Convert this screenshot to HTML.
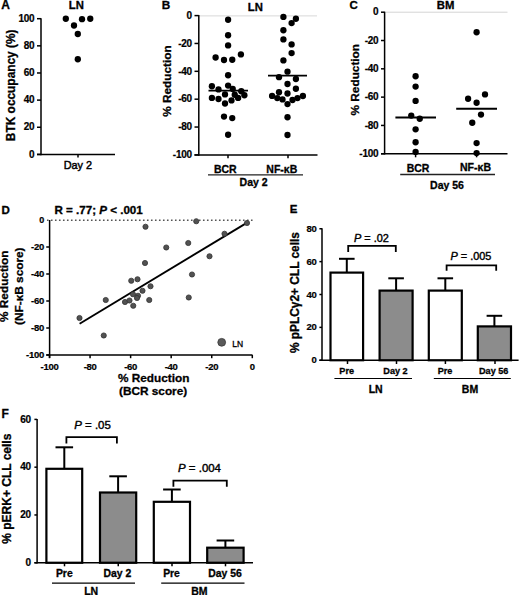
<!DOCTYPE html>
<html><head><meta charset="utf-8"><style>
html,body{margin:0;padding:0;background:#fff;}
svg{display:block;font-family:"Liberation Sans", sans-serif;}
</style></head><body>
<svg width="520" height="595" viewBox="0 0 520 595">
<rect width="520" height="595" fill="#fff"/>
<text x="0" y="0" transform="translate(1.3 8.8)" font-size="12" text-anchor="start" font-weight="bold" fill="#000" stroke="#000" stroke-width="0.3" >A</text>
<text x="0" y="0" transform="translate(76.4 9)" font-size="11.3" text-anchor="middle" font-weight="bold" fill="#000" stroke="#000" stroke-width="0.3" >LN</text>
<line x1="41" y1="18.2" x2="41" y2="155.15" stroke="#000" stroke-width="1.5" />
<line x1="37" y1="18.7" x2="41" y2="18.7" stroke="#000" stroke-width="1.5" />
<text x="0" y="0" transform="translate(34.2 21.9)" font-size="10" text-anchor="end" font-weight="bold" fill="#000" stroke="#000" stroke-width="0.22" letter-spacing="-0.3" >100</text>
<line x1="37" y1="45.84" x2="41" y2="45.84" stroke="#000" stroke-width="1.5" />
<text x="0" y="0" transform="translate(34.2 49.040000000000006)" font-size="10" text-anchor="end" font-weight="bold" fill="#000" stroke="#000" stroke-width="0.22" letter-spacing="-0.3" >80</text>
<line x1="37" y1="72.98" x2="41" y2="72.98" stroke="#000" stroke-width="1.5" />
<text x="0" y="0" transform="translate(34.2 76.18)" font-size="10" text-anchor="end" font-weight="bold" fill="#000" stroke="#000" stroke-width="0.22" letter-spacing="-0.3" >60</text>
<line x1="37" y1="100.12" x2="41" y2="100.12" stroke="#000" stroke-width="1.5" />
<text x="0" y="0" transform="translate(34.2 103.32000000000001)" font-size="10" text-anchor="end" font-weight="bold" fill="#000" stroke="#000" stroke-width="0.22" letter-spacing="-0.3" >40</text>
<line x1="37" y1="127.26000000000002" x2="41" y2="127.26000000000002" stroke="#000" stroke-width="1.5" />
<text x="0" y="0" transform="translate(34.2 130.46)" font-size="10" text-anchor="end" font-weight="bold" fill="#000" stroke="#000" stroke-width="0.22" letter-spacing="-0.3" >20</text>
<line x1="37" y1="154.4" x2="41" y2="154.4" stroke="#000" stroke-width="1.5" />
<text x="0" y="0" transform="translate(34.2 157.6)" font-size="10" text-anchor="end" font-weight="bold" fill="#000" stroke="#000" stroke-width="0.22" letter-spacing="-0.3" >0</text>
<line x1="37" y1="154.4" x2="115" y2="154.4" stroke="#000" stroke-width="1.5" />
<line x1="78" y1="154.4" x2="78" y2="157.5" stroke="#000" stroke-width="1.5" />
<text x="0" y="0" transform="translate(77.9 168.9)" font-size="10.9" text-anchor="middle" font-weight="normal" fill="#000" stroke="#000" stroke-width="0.45" >Day 2</text>
<text x="0" y="0" transform="translate(15.4 85.3) rotate(-90)" font-size="11.9" text-anchor="middle" font-weight="bold" fill="#000" stroke="#000" stroke-width="0.3" >BTK occupancy (%)</text>
<circle cx="65.8" cy="18.75" r="3.15" fill="#000"/>
<circle cx="74" cy="25.5" r="3.15" fill="#000"/>
<circle cx="82" cy="19.2" r="3.15" fill="#000"/>
<circle cx="90.25" cy="18.75" r="3.15" fill="#000"/>
<circle cx="77.8" cy="34" r="3.15" fill="#000"/>
<circle cx="77.8" cy="59.25" r="3.15" fill="#000"/>
<text x="0" y="0" transform="translate(161.8 8.8)" font-size="11.8" text-anchor="start" font-weight="bold" fill="#000" stroke="#000" stroke-width="0.3" >B</text>
<text x="0" y="0" transform="translate(255.3 11.3)" font-size="11.3" text-anchor="middle" font-weight="bold" fill="#000" stroke="#000" stroke-width="0.3" >LN</text>
<line x1="199.55" y1="15.9" x2="317" y2="15.9" stroke="#d8d8d8" stroke-width="1" />
<line x1="198.8" y1="15.1" x2="198.8" y2="155.65" stroke="#000" stroke-width="1.5" />
<line x1="194.5" y1="15.6" x2="198.8" y2="15.6" stroke="#000" stroke-width="1.5" />
<text x="0" y="0" transform="translate(191.7 18.8)" font-size="10" text-anchor="end" font-weight="bold" fill="#000" stroke="#000" stroke-width="0.22" letter-spacing="-0.3" >0</text>
<line x1="194.5" y1="43.46" x2="198.8" y2="43.46" stroke="#000" stroke-width="1.5" />
<text x="0" y="0" transform="translate(191.7 46.660000000000004)" font-size="10" text-anchor="end" font-weight="bold" fill="#000" stroke="#000" stroke-width="0.22" letter-spacing="-0.3" >-20</text>
<line x1="194.5" y1="71.32000000000001" x2="198.8" y2="71.32000000000001" stroke="#000" stroke-width="1.5" />
<text x="0" y="0" transform="translate(191.7 74.52000000000001)" font-size="10" text-anchor="end" font-weight="bold" fill="#000" stroke="#000" stroke-width="0.22" letter-spacing="-0.3" >-40</text>
<line x1="194.5" y1="99.18" x2="198.8" y2="99.18" stroke="#000" stroke-width="1.5" />
<text x="0" y="0" transform="translate(191.7 102.38000000000001)" font-size="10" text-anchor="end" font-weight="bold" fill="#000" stroke="#000" stroke-width="0.22" letter-spacing="-0.3" >-60</text>
<line x1="194.5" y1="127.04" x2="198.8" y2="127.04" stroke="#000" stroke-width="1.5" />
<text x="0" y="0" transform="translate(191.7 130.24)" font-size="10" text-anchor="end" font-weight="bold" fill="#000" stroke="#000" stroke-width="0.22" letter-spacing="-0.3" >-80</text>
<line x1="194.5" y1="154.9" x2="198.8" y2="154.9" stroke="#000" stroke-width="1.5" />
<text x="0" y="0" transform="translate(191.7 158.1)" font-size="10" text-anchor="end" font-weight="bold" fill="#000" stroke="#000" stroke-width="0.22" letter-spacing="-0.3" >-100</text>
<line x1="194.5" y1="154.9" x2="317.5" y2="154.9" stroke="#000" stroke-width="1.5" />
<line x1="228" y1="154.9" x2="228" y2="158.2" stroke="#000" stroke-width="1.5" />
<line x1="288" y1="154.9" x2="288" y2="158.2" stroke="#000" stroke-width="1.5" />
<line x1="208.5" y1="90.6" x2="248" y2="90.6" stroke="#000" stroke-width="1.8" />
<line x1="268" y1="75.6" x2="307" y2="75.6" stroke="#000" stroke-width="1.8" />
<text x="0" y="0" transform="translate(225.3 172.9)" font-size="10.5" text-anchor="middle" font-weight="bold" fill="#000" stroke="#000" stroke-width="0.3" >BCR</text>
<text x="0" y="0" transform="translate(281.8 173.0)" font-size="10.5" text-anchor="middle" font-weight="bold" fill="#000" stroke="#000" stroke-width="0.3" >NF-κB</text>
<line x1="208" y1="174.8" x2="303" y2="174.8" stroke="#222" stroke-width="1.3" />
<text x="0" y="0" transform="translate(253.6 185.8)" font-size="10.5" text-anchor="middle" font-weight="bold" fill="#000" stroke="#000" stroke-width="0.3" >Day 2</text>
<text x="0" y="0" transform="translate(170.9 81.1) rotate(-90)" font-size="11.8" text-anchor="middle" font-weight="bold" fill="#000" stroke="#000" stroke-width="0.3" >% Reduction</text>
<circle cx="228.1" cy="19.75" r="3.15" fill="#000"/>
<circle cx="228.1" cy="35.25" r="3.15" fill="#000"/>
<circle cx="228.1" cy="45.4" r="3.15" fill="#000"/>
<circle cx="215.6" cy="57.5" r="3.15" fill="#000"/>
<circle cx="224" cy="60" r="3.15" fill="#000"/>
<circle cx="232.25" cy="59.75" r="3.15" fill="#000"/>
<circle cx="240.9" cy="54.4" r="3.15" fill="#000"/>
<circle cx="228.1" cy="75.25" r="3.15" fill="#000"/>
<circle cx="211.9" cy="86.25" r="3.15" fill="#000"/>
<circle cx="218.5" cy="89.4" r="3.15" fill="#000"/>
<circle cx="228.1" cy="85.6" r="3.15" fill="#000"/>
<circle cx="232.75" cy="89" r="3.15" fill="#000"/>
<circle cx="225" cy="94.4" r="3.15" fill="#000"/>
<circle cx="234.75" cy="94.75" r="3.15" fill="#000"/>
<circle cx="241.25" cy="91.25" r="3.15" fill="#000"/>
<circle cx="244.4" cy="95.25" r="3.15" fill="#000"/>
<circle cx="211.9" cy="97.9" r="3.15" fill="#000"/>
<circle cx="218.5" cy="99" r="3.15" fill="#000"/>
<circle cx="238.1" cy="97.9" r="3.15" fill="#000"/>
<circle cx="231.5" cy="100.4" r="3.15" fill="#000"/>
<circle cx="225" cy="103.5" r="3.15" fill="#000"/>
<circle cx="224" cy="116.6" r="3.15" fill="#000"/>
<circle cx="232.25" cy="118.1" r="3.15" fill="#000"/>
<circle cx="228.1" cy="134.75" r="3.15" fill="#000"/>
<circle cx="283.4" cy="16.9" r="3.15" fill="#000"/>
<circle cx="295.9" cy="18.75" r="3.15" fill="#000"/>
<circle cx="291.6" cy="23.1" r="3.15" fill="#000"/>
<circle cx="283.4" cy="30.25" r="3.15" fill="#000"/>
<circle cx="283.4" cy="39.4" r="3.15" fill="#000"/>
<circle cx="291.6" cy="44.4" r="3.15" fill="#000"/>
<circle cx="291.6" cy="53.1" r="3.15" fill="#000"/>
<circle cx="283.4" cy="60.4" r="3.15" fill="#000"/>
<circle cx="287.5" cy="71.7" r="3.15" fill="#000"/>
<circle cx="279" cy="77.2" r="3.15" fill="#000"/>
<circle cx="295.9" cy="79" r="3.15" fill="#000"/>
<circle cx="287.5" cy="84" r="3.15" fill="#000"/>
<circle cx="295.9" cy="88.75" r="3.15" fill="#000"/>
<circle cx="279" cy="92.25" r="3.15" fill="#000"/>
<circle cx="287.5" cy="93.5" r="3.15" fill="#000"/>
<circle cx="272.1" cy="95.9" r="3.15" fill="#000"/>
<circle cx="277.25" cy="98.1" r="3.15" fill="#000"/>
<circle cx="282.5" cy="99.4" r="3.15" fill="#000"/>
<circle cx="292.5" cy="100" r="3.15" fill="#000"/>
<circle cx="297.5" cy="98.1" r="3.15" fill="#000"/>
<circle cx="302.9" cy="96" r="3.15" fill="#000"/>
<circle cx="287.5" cy="104.1" r="3.15" fill="#000"/>
<circle cx="287.5" cy="117.25" r="3.15" fill="#000"/>
<circle cx="287.5" cy="135" r="3.15" fill="#000"/>
<text x="0" y="0" transform="translate(349.4 9.2)" font-size="11.5" text-anchor="start" font-weight="bold" fill="#000" stroke="#000" stroke-width="0.3" >C</text>
<text x="0" y="0" transform="translate(445.5 8.6)" font-size="11.3" text-anchor="middle" font-weight="bold" fill="#000" stroke="#000" stroke-width="0.3" >BM</text>
<line x1="385.35" y1="12.2" x2="507.5" y2="12.2" stroke="#d4d4d4" stroke-width="1" />
<line x1="384.6" y1="11.7" x2="384.6" y2="154.5" stroke="#000" stroke-width="1.5" />
<line x1="381" y1="12.2" x2="384.6" y2="12.2" stroke="#000" stroke-width="1.5" />
<text x="0" y="0" transform="translate(378.2 15.399999999999999)" font-size="10" text-anchor="end" font-weight="bold" fill="#000" stroke="#000" stroke-width="0.22" letter-spacing="-0.3" >0</text>
<line x1="381" y1="40.510000000000005" x2="384.6" y2="40.510000000000005" stroke="#000" stroke-width="1.5" />
<text x="0" y="0" transform="translate(378.2 43.71000000000001)" font-size="10" text-anchor="end" font-weight="bold" fill="#000" stroke="#000" stroke-width="0.22" letter-spacing="-0.3" >-20</text>
<line x1="381" y1="68.82000000000001" x2="384.6" y2="68.82000000000001" stroke="#000" stroke-width="1.5" />
<text x="0" y="0" transform="translate(378.2 72.02000000000001)" font-size="10" text-anchor="end" font-weight="bold" fill="#000" stroke="#000" stroke-width="0.22" letter-spacing="-0.3" >-40</text>
<line x1="381" y1="97.13000000000001" x2="384.6" y2="97.13000000000001" stroke="#000" stroke-width="1.5" />
<text x="0" y="0" transform="translate(378.2 100.33000000000001)" font-size="10" text-anchor="end" font-weight="bold" fill="#000" stroke="#000" stroke-width="0.22" letter-spacing="-0.3" >-60</text>
<line x1="381" y1="125.44000000000001" x2="384.6" y2="125.44000000000001" stroke="#000" stroke-width="1.5" />
<text x="0" y="0" transform="translate(378.2 128.64000000000001)" font-size="10" text-anchor="end" font-weight="bold" fill="#000" stroke="#000" stroke-width="0.22" letter-spacing="-0.3" >-80</text>
<line x1="381" y1="153.75" x2="384.6" y2="153.75" stroke="#000" stroke-width="1.5" />
<text x="0" y="0" transform="translate(378.2 156.95)" font-size="10" text-anchor="end" font-weight="bold" fill="#000" stroke="#000" stroke-width="0.22" letter-spacing="-0.3" >-100</text>
<line x1="381" y1="153.75" x2="507.5" y2="153.75" stroke="#000" stroke-width="1.5" />
<line x1="415.6" y1="153.75" x2="415.6" y2="157.3" stroke="#000" stroke-width="1.5" />
<line x1="476.6" y1="153.75" x2="476.6" y2="157.3" stroke="#000" stroke-width="1.5" />
<line x1="395.4" y1="117.5" x2="436" y2="117.5" stroke="#000" stroke-width="1.8" />
<line x1="456.2" y1="108.75" x2="497" y2="108.75" stroke="#000" stroke-width="1.8" />
<text x="0" y="0" transform="translate(418 171.5)" font-size="10.5" text-anchor="middle" font-weight="bold" fill="#000" stroke="#000" stroke-width="0.3" >BCR</text>
<text x="0" y="0" transform="translate(475.5 171.3)" font-size="10.5" text-anchor="middle" font-weight="bold" fill="#000" stroke="#000" stroke-width="0.3" >NF-κB</text>
<line x1="400.2" y1="174.5" x2="495" y2="174.5" stroke="#222" stroke-width="1.3" />
<text x="0" y="0" transform="translate(447 188.6)" font-size="10.5" text-anchor="middle" font-weight="bold" fill="#000" stroke="#000" stroke-width="0.3" >Day 56</text>
<text x="0" y="0" transform="translate(358.8 79.7) rotate(-90)" font-size="11.8" text-anchor="middle" font-weight="bold" fill="#000" stroke="#000" stroke-width="0.3" >% Reduction</text>
<circle cx="415.6" cy="76.25" r="3.15" fill="#000"/>
<circle cx="415.6" cy="86.6" r="3.15" fill="#000"/>
<circle cx="415.6" cy="100.9" r="3.15" fill="#000"/>
<circle cx="411.25" cy="115.6" r="3.15" fill="#000"/>
<circle cx="419.75" cy="118.75" r="3.15" fill="#000"/>
<circle cx="415.6" cy="129.3" r="3.15" fill="#000"/>
<circle cx="415.6" cy="142.25" r="3.15" fill="#000"/>
<circle cx="415.6" cy="151.9" r="3.15" fill="#000"/>
<circle cx="476.6" cy="32.25" r="3.15" fill="#000"/>
<circle cx="468.1" cy="98.75" r="3.15" fill="#000"/>
<circle cx="485" cy="94.4" r="3.15" fill="#000"/>
<circle cx="476.6" cy="102.75" r="3.15" fill="#000"/>
<circle cx="481" cy="114.6" r="3.15" fill="#000"/>
<circle cx="472.25" cy="122.75" r="3.15" fill="#000"/>
<circle cx="476.6" cy="143.1" r="3.15" fill="#000"/>
<circle cx="476.6" cy="153.1" r="3.15" fill="#000"/>
<text x="0" y="0" transform="translate(1.5 213.9)" font-size="11.5" text-anchor="start" font-weight="bold" fill="#000" stroke="#000" stroke-width="0.3" >D</text>
<text x="0" y="0" transform="translate(54.5 213.9) scale(1.105 1)" font-size="10.5" text-anchor="start" font-weight="bold" fill="#000" stroke="#000" stroke-width="0.3" >R = .77; <tspan font-style="italic">P</tspan> &lt; .001</text>
<line x1="46.95" y1="220.2" x2="253.5" y2="220.2" stroke="#555" stroke-width="1.4" stroke-dasharray="1.6,2.4"/>
<line x1="49.6" y1="220" x2="49.6" y2="358" stroke="#000" stroke-width="1.5" />
<text x="0" y="0" transform="translate(43.9 223.0)" font-size="9" text-anchor="end" font-weight="bold" fill="#000" stroke="#000" stroke-width="0.22" letter-spacing="-0.3" >0</text>
<line x1="46.25" y1="247.0" x2="49.6" y2="247.0" stroke="#000" stroke-width="1.5" />
<text x="0" y="0" transform="translate(43.9 250.0)" font-size="9.5" text-anchor="end" font-weight="bold" fill="#000" stroke="#000" stroke-width="0.22" letter-spacing="-0.3" >-20</text>
<line x1="46.25" y1="274.0" x2="49.6" y2="274.0" stroke="#000" stroke-width="1.5" />
<text x="0" y="0" transform="translate(43.9 277.0)" font-size="9.5" text-anchor="end" font-weight="bold" fill="#000" stroke="#000" stroke-width="0.22" letter-spacing="-0.3" >-40</text>
<line x1="46.25" y1="301.0" x2="49.6" y2="301.0" stroke="#000" stroke-width="1.5" />
<text x="0" y="0" transform="translate(43.9 304.0)" font-size="9.5" text-anchor="end" font-weight="bold" fill="#000" stroke="#000" stroke-width="0.22" letter-spacing="-0.3" >-60</text>
<line x1="46.25" y1="328.0" x2="49.6" y2="328.0" stroke="#000" stroke-width="1.5" />
<text x="0" y="0" transform="translate(43.9 331.0)" font-size="9.5" text-anchor="end" font-weight="bold" fill="#000" stroke="#000" stroke-width="0.22" letter-spacing="-0.3" >-80</text>
<line x1="46.25" y1="355.0" x2="49.6" y2="355.0" stroke="#000" stroke-width="1.5" />
<text x="0" y="0" transform="translate(43.9 358.0)" font-size="9.5" text-anchor="end" font-weight="bold" fill="#000" stroke="#000" stroke-width="0.22" letter-spacing="-0.3" >-100</text>
<line x1="46.25" y1="355" x2="252.5" y2="355" stroke="#000" stroke-width="1.5" />
<line x1="49.5" y1="355" x2="49.5" y2="358.2" stroke="#000" stroke-width="1.5" />
<text x="0" y="0" transform="translate(49.5 369.9)" font-size="9.5" text-anchor="middle" font-weight="bold" fill="#000" stroke="#000" stroke-width="0.22" letter-spacing="-0.3" >-100</text>
<line x1="90.06" y1="355" x2="90.06" y2="358.2" stroke="#000" stroke-width="1.5" />
<text x="0" y="0" transform="translate(90.06 369.9)" font-size="9.5" text-anchor="middle" font-weight="bold" fill="#000" stroke="#000" stroke-width="0.22" letter-spacing="-0.3" >-80</text>
<line x1="130.62" y1="355" x2="130.62" y2="358.2" stroke="#000" stroke-width="1.5" />
<text x="0" y="0" transform="translate(130.62 369.9)" font-size="9.5" text-anchor="middle" font-weight="bold" fill="#000" stroke="#000" stroke-width="0.22" letter-spacing="-0.3" >-60</text>
<line x1="171.18" y1="355" x2="171.18" y2="358.2" stroke="#000" stroke-width="1.5" />
<text x="0" y="0" transform="translate(171.18 369.9)" font-size="9.5" text-anchor="middle" font-weight="bold" fill="#000" stroke="#000" stroke-width="0.22" letter-spacing="-0.3" >-40</text>
<line x1="211.74" y1="355" x2="211.74" y2="358.2" stroke="#000" stroke-width="1.5" />
<text x="0" y="0" transform="translate(211.74 369.9)" font-size="9.5" text-anchor="middle" font-weight="bold" fill="#000" stroke="#000" stroke-width="0.22" letter-spacing="-0.3" >-20</text>
<line x1="252.3" y1="355" x2="252.3" y2="358.2" stroke="#000" stroke-width="1.5" />
<text x="0" y="0" transform="translate(252.3 369.9)" font-size="9.5" text-anchor="middle" font-weight="bold" fill="#000" stroke="#000" stroke-width="0.22" letter-spacing="-0.3" >0</text>
<text x="0" y="0" transform="translate(153.7 382.3)" font-size="11.8" text-anchor="middle" font-weight="bold" fill="#000" stroke="#000" stroke-width="0.3" >% Reduction</text>
<text x="0" y="0" transform="translate(153.1 394.5)" font-size="11.8" text-anchor="middle" font-weight="bold" fill="#000" stroke="#000" stroke-width="0.3" >(BCR score)</text>
<text x="0" y="0" transform="translate(8.4 286.2) rotate(-90)" font-size="11.8" text-anchor="middle" font-weight="bold" fill="#000" stroke="#000" stroke-width="0.3" >% Reduction</text>
<text x="0" y="0" transform="translate(22.8 286.2) rotate(-90)" font-size="11.8" text-anchor="middle" font-weight="bold" fill="#000" stroke="#000" stroke-width="0.3" >(NF-κB score)</text>
<line x1="79.6" y1="323.7" x2="248" y2="222.1" stroke="#000" stroke-width="1.9" />
<circle cx="145.5" cy="226.75" r="2.6" fill="#525252" stroke="#333" stroke-width="0.8"/>
<circle cx="196.25" cy="221.25" r="2.6" fill="#525252" stroke="#333" stroke-width="0.8"/>
<circle cx="247" cy="223" r="2.6" fill="#525252" stroke="#333" stroke-width="0.8"/>
<circle cx="224.5" cy="233.75" r="2.6" fill="#525252" stroke="#333" stroke-width="0.8"/>
<circle cx="188.25" cy="243" r="2.6" fill="#525252" stroke="#333" stroke-width="0.8"/>
<circle cx="166.25" cy="247.5" r="2.6" fill="#525252" stroke="#333" stroke-width="0.8"/>
<circle cx="209.5" cy="256.25" r="2.6" fill="#525252" stroke="#333" stroke-width="0.8"/>
<circle cx="145" cy="263" r="2.6" fill="#525252" stroke="#333" stroke-width="0.8"/>
<circle cx="192" cy="274.5" r="2.6" fill="#525252" stroke="#333" stroke-width="0.8"/>
<circle cx="131.25" cy="280.75" r="2.6" fill="#525252" stroke="#333" stroke-width="0.8"/>
<circle cx="137.5" cy="279.25" r="2.6" fill="#525252" stroke="#333" stroke-width="0.8"/>
<circle cx="150.5" cy="286.25" r="2.6" fill="#525252" stroke="#333" stroke-width="0.8"/>
<circle cx="142.5" cy="290.75" r="2.6" fill="#525252" stroke="#333" stroke-width="0.8"/>
<circle cx="133" cy="294.25" r="2.6" fill="#525252" stroke="#333" stroke-width="0.8"/>
<circle cx="138" cy="295.75" r="2.6" fill="#525252" stroke="#333" stroke-width="0.8"/>
<circle cx="137" cy="298" r="2.6" fill="#525252" stroke="#333" stroke-width="0.8"/>
<circle cx="125" cy="302" r="2.6" fill="#525252" stroke="#333" stroke-width="0.8"/>
<circle cx="129.5" cy="300.5" r="2.6" fill="#525252" stroke="#333" stroke-width="0.8"/>
<circle cx="133.25" cy="305.75" r="2.6" fill="#525252" stroke="#333" stroke-width="0.8"/>
<circle cx="149.25" cy="300" r="2.6" fill="#525252" stroke="#333" stroke-width="0.8"/>
<circle cx="105.75" cy="300" r="2.6" fill="#525252" stroke="#333" stroke-width="0.8"/>
<circle cx="79.5" cy="318" r="2.6" fill="#525252" stroke="#333" stroke-width="0.8"/>
<circle cx="103.75" cy="335.5" r="2.6" fill="#525252" stroke="#333" stroke-width="0.8"/>
<circle cx="188.75" cy="297.5" r="2.6" fill="#525252" stroke="#333" stroke-width="0.8"/>
<circle cx="221.7" cy="342.3" r="3.9" fill="#5a5a5a" stroke="#3a3a3a" stroke-width="0.8"/>
<text x="0" y="0" transform="translate(232.2 347) scale(0.9 1)" font-size="9.4" text-anchor="start" font-weight="normal" fill="#000" stroke="#000" stroke-width="0.35" >LN</text>
<text x="0" y="0" transform="translate(289.8 213.4)" font-size="11.5" text-anchor="start" font-weight="bold" fill="#000" stroke="#000" stroke-width="0.3" >E</text>
<line x1="322" y1="228.25" x2="322" y2="361.0" stroke="#000" stroke-width="1.5" />
<line x1="319.4" y1="228.75" x2="322" y2="228.75" stroke="#000" stroke-width="1.5" />
<text x="0" y="0" transform="translate(316.5 231.75)" font-size="9.5" text-anchor="end" font-weight="bold" fill="#000" stroke="#000" stroke-width="0.22" letter-spacing="-0.3" >80</text>
<line x1="319.4" y1="261.625" x2="322" y2="261.625" stroke="#000" stroke-width="1.5" />
<text x="0" y="0" transform="translate(316.5 264.625)" font-size="9.5" text-anchor="end" font-weight="bold" fill="#000" stroke="#000" stroke-width="0.22" letter-spacing="-0.3" >60</text>
<line x1="319.4" y1="294.5" x2="322" y2="294.5" stroke="#000" stroke-width="1.5" />
<text x="0" y="0" transform="translate(316.5 297.5)" font-size="9.5" text-anchor="end" font-weight="bold" fill="#000" stroke="#000" stroke-width="0.22" letter-spacing="-0.3" >40</text>
<line x1="319.4" y1="327.375" x2="322" y2="327.375" stroke="#000" stroke-width="1.5" />
<text x="0" y="0" transform="translate(316.5 330.375)" font-size="9.5" text-anchor="end" font-weight="bold" fill="#000" stroke="#000" stroke-width="0.22" letter-spacing="-0.3" >20</text>
<line x1="319.4" y1="360.25" x2="322" y2="360.25" stroke="#000" stroke-width="1.5" />
<text x="0" y="0" transform="translate(316.5 363.25)" font-size="9.5" text-anchor="end" font-weight="bold" fill="#000" stroke="#000" stroke-width="0.22" letter-spacing="-0.3" >0</text>
<line x1="319.4" y1="360.25" x2="518.6" y2="360.25" stroke="#000" stroke-width="1.5" />
<line x1="347.5" y1="360.25" x2="347.5" y2="364" stroke="#000" stroke-width="1.5" />
<line x1="396.5" y1="360.25" x2="396.5" y2="364" stroke="#000" stroke-width="1.5" />
<line x1="445.4" y1="360.25" x2="445.4" y2="364" stroke="#000" stroke-width="1.5" />
<line x1="495" y1="360.25" x2="495" y2="364" stroke="#000" stroke-width="1.5" />
<line x1="346.8" y1="258.8" x2="346.8" y2="272.6" stroke="#000" stroke-width="2" />
<line x1="339.0" y1="258.8" x2="354.6" y2="258.8" stroke="#000" stroke-width="2" />
<rect x="330.5" y="272.6" width="32.60000000000002" height="87.64999999999998" fill="#fff" stroke="#000" stroke-width="2.2"/>
<line x1="396.1" y1="278.3" x2="396.1" y2="290.6" stroke="#000" stroke-width="2" />
<line x1="388.3" y1="278.3" x2="403.90000000000003" y2="278.3" stroke="#000" stroke-width="2" />
<rect x="379.6" y="290.6" width="33.0" height="69.64999999999998" fill="#8c8c8c" stroke="#000" stroke-width="2.2"/>
<line x1="445.3" y1="278.3" x2="445.3" y2="290.6" stroke="#000" stroke-width="2" />
<line x1="437.5" y1="278.3" x2="453.1" y2="278.3" stroke="#000" stroke-width="2" />
<rect x="428.8" y="290.6" width="33.0" height="69.64999999999998" fill="#fff" stroke="#000" stroke-width="2.2"/>
<line x1="494.4" y1="315.8" x2="494.4" y2="326.4" stroke="#000" stroke-width="2" />
<line x1="486.59999999999997" y1="315.8" x2="502.2" y2="315.8" stroke="#000" stroke-width="2" />
<rect x="477.8" y="326.4" width="33.19999999999999" height="33.85000000000002" fill="#8c8c8c" stroke="#000" stroke-width="2.2"/>
<polyline points="348.2,252 348.2,245.8 395.8,245.8 395.8,252" fill="none" stroke="#000" stroke-width="1.8"/>
<polyline points="446.6,270.8 446.6,265.3 496.2,265.3 496.2,270.8" fill="none" stroke="#000" stroke-width="1.8"/>
<text x="0" y="0" transform="translate(371.4 242) scale(1.08 1)" font-size="10.1" text-anchor="middle" font-weight="normal" fill="#000" stroke="#000" stroke-width="0.38" ><tspan font-style="italic">P</tspan> = .02</text>
<text x="0" y="0" transform="translate(470.9 260.2) scale(1.08 1)" font-size="10.1" text-anchor="middle" font-weight="normal" fill="#000" stroke="#000" stroke-width="0.38" ><tspan font-style="italic">P</tspan> = .005</text>
<text x="0" y="0" transform="translate(346.7 374.2) scale(0.95 1)" font-size="9.6" text-anchor="middle" font-weight="bold" fill="#000" stroke="#000" stroke-width="0.3" >Pre</text>
<text x="0" y="0" transform="translate(395.5 374.2) scale(0.95 1)" font-size="9.6" text-anchor="middle" font-weight="bold" fill="#000" stroke="#000" stroke-width="0.3" >Day 2</text>
<text x="0" y="0" transform="translate(445 374.2) scale(0.95 1)" font-size="9.6" text-anchor="middle" font-weight="bold" fill="#000" stroke="#000" stroke-width="0.3" >Pre</text>
<text x="0" y="0" transform="translate(493.7 374.2) scale(0.95 1)" font-size="9.6" text-anchor="middle" font-weight="bold" fill="#000" stroke="#000" stroke-width="0.3" >Day 56</text>
<line x1="334.4" y1="378.5" x2="412" y2="378.5" stroke="#000" stroke-width="1.2" />
<line x1="433.8" y1="378.5" x2="510.8" y2="378.5" stroke="#000" stroke-width="1.2" />
<text x="0" y="0" transform="translate(375.7 392.9)" font-size="10.5" text-anchor="middle" font-weight="bold" fill="#000" stroke="#000" stroke-width="0.3" >LN</text>
<text x="0" y="0" transform="translate(470 392.9)" font-size="10.5" text-anchor="middle" font-weight="bold" fill="#000" stroke="#000" stroke-width="0.3" >BM</text>
<text x="0" y="0" transform="translate(299.0 292.6) rotate(-90)" font-size="11.9" text-anchor="middle" font-weight="bold" fill="#000" stroke="#000" stroke-width="0.3" >% pPLCγ2+ CLL cells</text>
<text x="0" y="0" transform="translate(1.4 418)" font-size="12" text-anchor="start" font-weight="bold" fill="#000" stroke="#000" stroke-width="0.3" >F</text>
<line x1="37.1" y1="418.9" x2="37.1" y2="563.5" stroke="#000" stroke-width="1.5" />
<line x1="34.4" y1="419.4" x2="37.1" y2="419.4" stroke="#000" stroke-width="1.5" />
<text x="0" y="0" transform="translate(30.8 422.59999999999997)" font-size="10" text-anchor="end" font-weight="bold" fill="#000" stroke="#000" stroke-width="0.22" letter-spacing="-0.3" >60</text>
<line x1="34.4" y1="467.18333333333334" x2="37.1" y2="467.18333333333334" stroke="#000" stroke-width="1.5" />
<text x="0" y="0" transform="translate(30.8 470.3833333333333)" font-size="10" text-anchor="end" font-weight="bold" fill="#000" stroke="#000" stroke-width="0.22" letter-spacing="-0.3" >40</text>
<line x1="34.4" y1="514.9666666666667" x2="37.1" y2="514.9666666666667" stroke="#000" stroke-width="1.5" />
<text x="0" y="0" transform="translate(30.8 518.1666666666667)" font-size="10" text-anchor="end" font-weight="bold" fill="#000" stroke="#000" stroke-width="0.22" letter-spacing="-0.3" >20</text>
<line x1="34.4" y1="562.75" x2="37.1" y2="562.75" stroke="#000" stroke-width="1.5" />
<text x="0" y="0" transform="translate(30.8 565.95)" font-size="10" text-anchor="end" font-weight="bold" fill="#000" stroke="#000" stroke-width="0.22" letter-spacing="-0.3" >0</text>
<line x1="34.4" y1="562.75" x2="253" y2="562.75" stroke="#000" stroke-width="1.5" />
<line x1="64.5" y1="562.75" x2="64.5" y2="566.3" stroke="#000" stroke-width="1.5" />
<line x1="118.25" y1="562.75" x2="118.25" y2="566.3" stroke="#000" stroke-width="1.5" />
<line x1="172" y1="562.75" x2="172" y2="566.3" stroke="#000" stroke-width="1.5" />
<line x1="225.5" y1="562.75" x2="225.5" y2="566.3" stroke="#000" stroke-width="1.5" />
<line x1="64.3" y1="447.3" x2="64.3" y2="468.8" stroke="#000" stroke-width="2" />
<line x1="55.5" y1="447.3" x2="73.1" y2="447.3" stroke="#000" stroke-width="2" />
<rect x="46.4" y="468.8" width="35.800000000000004" height="93.94999999999999" fill="#fff" stroke="#000" stroke-width="2.2"/>
<line x1="118.1" y1="476.3" x2="118.1" y2="492.5" stroke="#000" stroke-width="2" />
<line x1="109.3" y1="476.3" x2="126.89999999999999" y2="476.3" stroke="#000" stroke-width="2" />
<rect x="100" y="492.5" width="36.19999999999999" height="70.25" fill="#8c8c8c" stroke="#000" stroke-width="2.2"/>
<line x1="171.9" y1="489.5" x2="171.9" y2="501.8" stroke="#000" stroke-width="2" />
<line x1="163.1" y1="489.5" x2="180.70000000000002" y2="489.5" stroke="#000" stroke-width="2" />
<rect x="153.8" y="501.8" width="36.19999999999999" height="60.94999999999999" fill="#fff" stroke="#000" stroke-width="2.2"/>
<line x1="225.39999999999998" y1="540.5" x2="225.39999999999998" y2="547.7" stroke="#000" stroke-width="2" />
<line x1="216.59999999999997" y1="540.5" x2="234.2" y2="540.5" stroke="#000" stroke-width="2" />
<rect x="207.2" y="547.7" width="36.400000000000006" height="15.049999999999955" fill="#8c8c8c" stroke="#000" stroke-width="2.2"/>
<polyline points="66.4,443.4 66.4,437.1 116.9,437.1 116.9,443.4" fill="none" stroke="#000" stroke-width="1.8"/>
<polyline points="173.4,486.7 173.4,480.7 226.8,480.7 226.8,486.7" fill="none" stroke="#000" stroke-width="1.8"/>
<text x="0" y="0" transform="translate(92.5 429.1) scale(1.08 1)" font-size="10.6" text-anchor="middle" font-weight="normal" fill="#000" stroke="#000" stroke-width="0.38" ><tspan font-style="italic">P</tspan> = .05</text>
<text x="0" y="0" transform="translate(199.5 472.1) scale(1.08 1)" font-size="10.6" text-anchor="middle" font-weight="normal" fill="#000" stroke="#000" stroke-width="0.38" ><tspan font-style="italic">P</tspan> = .004</text>
<text x="0" y="0" transform="translate(64.3 577.4)" font-size="10.4" text-anchor="middle" font-weight="bold" fill="#000" stroke="#000" stroke-width="0.3" >Pre</text>
<text x="0" y="0" transform="translate(117.4 577.4)" font-size="10.4" text-anchor="middle" font-weight="bold" fill="#000" stroke="#000" stroke-width="0.3" >Day 2</text>
<text x="0" y="0" transform="translate(171.5 577.4)" font-size="10.4" text-anchor="middle" font-weight="bold" fill="#000" stroke="#000" stroke-width="0.3" >Pre</text>
<text x="0" y="0" transform="translate(225 577.4)" font-size="10.4" text-anchor="middle" font-weight="bold" fill="#000" stroke="#000" stroke-width="0.3" >Day 56</text>
<line x1="52" y1="583.1" x2="135" y2="583.1" stroke="#000" stroke-width="1.2" />
<line x1="161.2" y1="583.1" x2="244.5" y2="583.1" stroke="#000" stroke-width="1.2" />
<text x="0" y="0" transform="translate(91.2 595)" font-size="10.5" text-anchor="middle" font-weight="bold" fill="#000" stroke="#000" stroke-width="0.3" >LN</text>
<text x="0" y="0" transform="translate(199.3 595)" font-size="10.5" text-anchor="middle" font-weight="bold" fill="#000" stroke="#000" stroke-width="0.3" >BM</text>
<text x="0" y="0" transform="translate(11.0 488.7) rotate(-90)" font-size="12" text-anchor="middle" font-weight="bold" fill="#000" stroke="#000" stroke-width="0.3" >% pERK+ CLL cells</text>
</svg>
</body></html>
